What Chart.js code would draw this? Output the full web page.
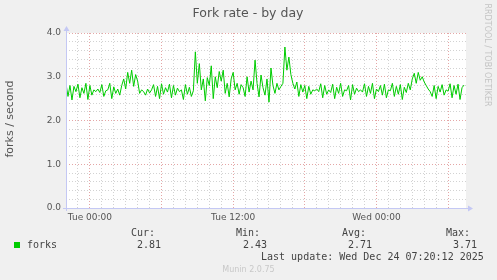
<!DOCTYPE html>
<html>
<head>
<meta charset="utf-8">
<script src="https://cdn.jsdelivr.net/npm/chart.js@4"></script>
<style>
  body { margin: 0; background: #f0f0f0; }
  canvas { display: block; }
</style>
</head>
<body>
<canvas id="chartForks" width="497" height="280"></canvas>
<script>
// hours relative to Tue 00:00, one sample every 10 minutes
const startHour = -2;
const stepHours = 1 / 6;

const forkRate = [
  2.84, 2.55, 2.80, 2.47, 2.78, 2.66, 2.83, 2.52, 2.75, 2.62,
  2.85, 2.48, 2.80, 2.58, 2.70, 2.66, 2.72, 2.64, 2.82, 2.55,
  2.68, 2.70, 2.85, 2.50, 2.77, 2.62, 2.72, 2.58, 2.80,
  2.95, 2.72, 3.10, 2.85, 3.15, 2.78, 3.05, 2.90, 2.62,
  2.70, 2.66, 2.58, 2.72, 2.63, 2.70, 2.82, 2.55, 2.78, 2.50,
  2.84, 2.60, 2.75, 2.65, 2.83, 2.52, 2.80, 2.58, 2.74, 2.66,
  2.70, 2.48, 2.82, 2.60, 2.76, 2.55, 2.68,
  3.57, 2.85, 3.30, 2.70, 2.95, 2.45, 2.98, 2.80, 3.25, 2.50,
  3.00, 2.75, 3.12, 2.90, 3.15, 2.62, 2.85, 2.54,
  2.95, 3.10, 2.70, 2.85, 2.60, 2.82, 2.75, 2.55, 3.00, 2.65,
  2.90, 2.70, 3.38, 2.85, 2.54, 3.04, 2.75, 2.58, 2.95, 2.42,
  3.20, 2.80, 2.62, 2.85, 2.70, 2.78, 2.85,
  3.68, 3.15, 3.45, 3.05, 2.85, 2.72,
  2.88, 2.55, 2.82, 2.65, 2.80, 2.50, 2.78, 2.60, 2.70, 2.68,
  2.72, 2.66, 2.84, 2.52, 2.80, 2.60, 2.70, 2.64, 2.83, 2.50,
  2.76, 2.62, 2.85, 2.55, 2.70, 2.68, 2.80, 2.47, 2.82, 2.60,
  2.74, 2.66, 2.70, 2.65, 2.84, 2.55, 2.78, 2.62, 2.85, 2.50,
  2.72, 2.66, 2.80, 2.58, 2.83, 2.52, 2.70, 2.68, 2.85, 2.55,
  2.78, 2.60, 2.82, 2.48, 2.76, 2.64, 2.85, 2.70,
  2.95, 3.08, 2.85, 3.10, 2.92, 3.00, 2.88, 2.80,
  2.72, 2.66, 2.55, 2.80, 2.50, 2.78, 2.65, 2.82, 2.58, 2.70,
  2.67, 2.84, 2.52, 2.80, 2.60, 2.83, 2.48, 2.75, 2.81
];

const xTickLabels = { 0: "Tue 00:00", 12: "Tue 12:00", 24: "Wed 00:00" };
const statHeaders = ["Cur:", "Min:", "Avg:", "Max:"];
const statValues = ["2.81", "2.43", "2.71", "3.71"];
const seriesName = "forks";
const lastUpdate = "Last update: Wed Dec 24 07:20:12 2025";

const endHour = startHour + forkRate.length * stepHours;
const points = forkRate.map((v, i) => ({ x: startHour + i * stepHours, y: v }));

const RED = "#e4a6a6";
const GRAY = "#d2d2d2";
const AXIS = "#c4c8f4";
const SANS = "'DejaVu Sans', sans-serif";
const MONO = "'DejaVu Sans Mono', monospace";

function isWhole(v) { return Math.abs(v - Math.round(v)) < 1e-6; }

const muninDecor = {
  id: "muninDecor",
  beforeDraw(chart) {
    const { ctx, chartArea: a } = chart;
    ctx.save();
    ctx.fillStyle = "#f0f0f0";
    ctx.fillRect(0, 0, chart.width, chart.height);
    ctx.fillStyle = "#ffffff";
    ctx.fillRect(a.left, a.top, a.right - a.left, a.bottom - a.top);
    ctx.restore();
  },
  afterDraw(chart) {
    const { ctx, chartArea: a } = chart;
    ctx.save();
    // axes with arrows
    ctx.strokeStyle = AXIS;
    ctx.fillStyle = AXIS;
    ctx.lineWidth = 1;
    ctx.beginPath();
    ctx.moveTo(a.left + 0.5, a.bottom + 3);
    ctx.lineTo(a.left + 0.5, a.top - 3);
    ctx.moveTo(a.left - 3, a.bottom + 0.5);
    ctx.lineTo(a.right + 3, a.bottom + 0.5);
    ctx.stroke();
    ctx.beginPath();
    ctx.moveTo(a.left + 0.5, a.top - 7);
    ctx.lineTo(a.left - 2.5, a.top - 2);
    ctx.lineTo(a.left + 3.5, a.top - 2);
    ctx.fill();
    ctx.beginPath();
    ctx.moveTo(a.right + 7, a.bottom + 0.5);
    ctx.lineTo(a.right + 2, a.bottom - 2.5);
    ctx.lineTo(a.right + 2, a.bottom + 3.5);
    ctx.fill();

    // title
    ctx.fillStyle = "#555555";
    ctx.textAlign = "center";
    ctx.textBaseline = "middle";
    ctx.font = "12.5px " + SANS;
    ctx.fillText("Fork rate - by day", 248, 14);

    // y axis title
    ctx.save();
    ctx.translate(10, 119);
    ctx.rotate(-Math.PI / 2);
    ctx.font = "11px " + SANS;
    ctx.fillText("forks / second", 0, 0);
    ctx.restore();

    // rrdtool credit
    ctx.save();
    ctx.translate(487, 55);
    ctx.rotate(Math.PI / 2);
    ctx.fillStyle = "#c4c4c4";
    ctx.font = "8px " + SANS;
    ctx.fillText("RRDTOOL / TOBI OETIKER", 0, 0);
    ctx.restore();

    // legend
    ctx.fillStyle = "#00cc00";
    ctx.fillRect(14, 242, 6, 6);
    ctx.fillStyle = "#444444";
    ctx.font = "10px " + MONO;
    ctx.textAlign = "left";
    ctx.fillText(seriesName, 27, 245);
    const headX = [131, 236, 342, 446];
    const valX = [137, 243, 348, 453];
    statHeaders.forEach((h, i) => ctx.fillText(h, headX[i], 233.5));
    statValues.forEach((v, i) => ctx.fillText(v, valX[i], 245));
    ctx.fillText(lastUpdate, 261, 257);

    ctx.fillStyle = "#c8c8c8";
    ctx.font = "8px " + SANS;
    ctx.textAlign = "center";
    ctx.fillText("Munin 2.0.75", 248.5, 269.5);
    ctx.restore();
  }
};

new Chart(document.getElementById("chartForks"), {
  type: "line",
  data: {
    datasets: [{
      label: seriesName,
      data: points,
      borderColor: "#00cc00",
      borderWidth: 1,
      pointRadius: 0,
      tension: 0,
      fill: false
    }]
  },
  options: {
    responsive: false,
    animation: false,
    events: [],
    layout: { padding: { top: 33, right: 31, left: 0, bottom: 0 } },
    plugins: { legend: { display: false }, tooltip: { enabled: false }, title: { display: false } },
    scales: {
      x: {
        type: "linear",
        min: startHour,
        max: endHour,
        afterFit(scale) { scale.height = 72; },
        border: { display: false, dash: [1, 2] },
        grid: {
          drawTicks: false,
          color(c) {
            const v = c.tick.value;
            if (!isWhole(v)) return "rgba(0,0,0,0)";
            return Math.round(v) % 6 === 0 ? RED : GRAY;
          }
        },
        ticks: {
          stepSize: 1,
          autoSkip: false,
          maxRotation: 0,
          padding: 4,
          color: "#555555",
          font: { family: SANS, size: 9 },
          callback(v) { return isWhole(v) ? (xTickLabels[Math.round(v)] || "") : ""; }
        }
      },
      y: {
        min: 0,
        max: 4,
        afterFit(scale) { scale.width = 66; },
        border: { display: false, dash: [1, 2] },
        grid: {
          drawTicks: false,
          color(c) { return isWhole(c.tick.value) ? RED : GRAY; }
        },
        ticks: {
          stepSize: 0.2,
          autoSkip: false,
          padding: 5,
          color: "#555555",
          font: { family: SANS, size: 9 },
          callback(v) { return isWhole(v) ? v.toFixed(1) : ""; }
        }
      }
    }
  },
  plugins: [muninDecor]
});
</script>
</body>
</html>
